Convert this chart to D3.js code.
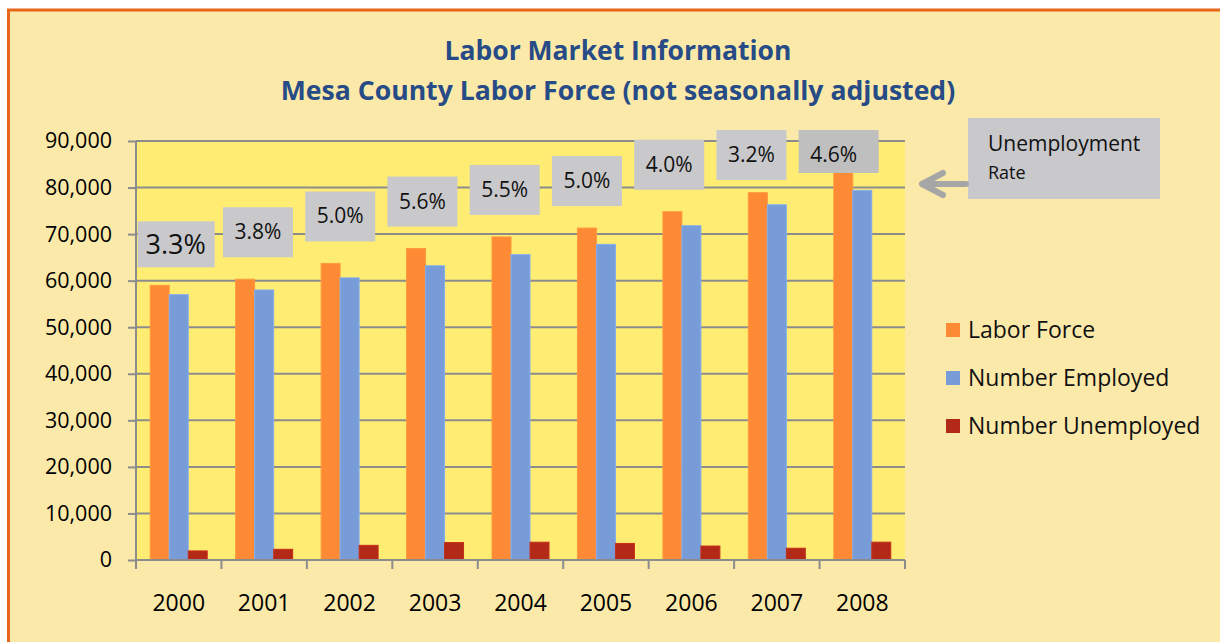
<!DOCTYPE html>
<html>
<head>
<meta charset="utf-8">
<script src="https://cdn.jsdelivr.net/npm/d3@7"></script>
<style>
  body { margin: 0; background: #fff; }
  svg { display: block; font-family: "Open Sans", Lato, sans-serif; }
</style>
</head>
<body>
<div id="canvas"></div>
<script>
// Chart data
const years = ["2000", "2001", "2002", "2003", "2004", "2005", "2006", "2007", "2008"];
const laborForce = [59000, 60300, 63700, 66900, 69400, 71300, 74800, 78900, 83200];
const employed = [57000, 58000, 60600, 63200, 65600, 67800, 71800, 76300, 79400];
const unemployed = [1950, 2300, 3150, 3750, 3820, 3560, 3000, 2530, 3830];
const rateLabels = ["3.3%", "3.8%", "5.0%", "5.6%", "5.5%", "5.0%", "4.0%", "3.2%", "4.6%"];
const seriesNames = ["Labor Force", "Number Employed", "Number Unemployed"];
const yTicks = [0, 10000, 20000, 30000, 40000, 50000, 60000, 70000, 80000, 90000];

const colors = ["#ff8a35", "#779cd8", "#b22a17"];

function createGraph() {
    const W = 1220, H = 642;
    const margin = { top: 141, right: 315, bottom: 82, left: 136 },
        width = W - margin.left - margin.right,
        height = H - margin.top - margin.bottom;

    const root = d3.select("#canvas")
        .append("svg")
        .attr("width", W)
        .attr("height", H);

    // background frame
    root.append("rect")
        .attr("x", 8.5).attr("y", 10)
        .attr("width", W + 20).attr("height", H + 20)
        .attr("fill", "#fbe9a9")
        .attr("stroke", "#e8661a")
        .attr("stroke-width", 3);

    // titles
    root.append("text")
        .attr("x", 618).attr("y", 60)
        .attr("text-anchor", "middle")
        .style("font-size", "26.5px").style("font-weight", "bold")
        .attr("fill", "#264b86")
        .text("Labor Market Information");
    root.append("text")
        .attr("x", 618).attr("y", 100)
        .attr("text-anchor", "middle")
        .style("font-size", "26.6px").style("font-weight", "bold")
        .attr("fill", "#264b86")
        .text("Mesa County Labor Force (not seasonally adjusted)");

    const svg = root.append("g")
        .attr("transform", `translate(${margin.left},${margin.top})`);

    svg.append("rect")
        .attr("width", width).attr("height", height)
        .attr("fill", "#ffec73");

    const y = d3.scaleLinear().domain([0, 90000]).range([height, 0]);

    const x0 = d3.scaleBand()
        .domain(years)
        .range([0, width])
        .paddingInner(0.333)
        .paddingOuter(0.1665);

    const x1 = d3.scaleBand()
        .domain(seriesNames)
        .range([0, x0.bandwidth()]);

    // gridlines
    svg.append("g")
        .selectAll("line")
        .data(yTicks.filter(d => d > 0))
        .join("line")
        .attr("x1", 0).attr("x2", width)
        .attr("y1", d => y(d)).attr("y2", d => y(d))
        .attr("stroke", "#8c8c8c")
        .attr("stroke-width", 2);

    // bars
    const rows = years.map((yr, i) => ({
        year: yr,
        values: [laborForce[i], employed[i], unemployed[i]]
    }));

    svg.append("g")
        .selectAll("g")
        .data(rows)
        .join("g")
        .attr("transform", d => `translate(${x0(d.year)},0)`)
        .selectAll("rect")
        .data(d => d.values.map((v, j) => ({ key: seriesNames[j], value: v, j })))
        .join("rect")
        .attr("x", d => x1(d.key))
        .attr("y", d => y(d.value))
        .attr("width", x1.bandwidth())
        .attr("height", d => height - y(d.value))
        .attr("fill", d => colors[d.j])
        .attr("stroke", d => d3.color(colors[d.j]).brighter(0.3))
        .attr("stroke-width", 1);

    // y axis
    const yAxis = svg.append("g")
        .call(d3.axisLeft(y).tickValues(yTicks).tickSize(8).tickPadding(16)
            .tickFormat(d3.format(",")));
    yAxis.select(".domain").attr("stroke", "#8c8c8c").attr("stroke-width", 2)
        .attr("d", `M0,0V${height}`);
    yAxis.selectAll(".tick line").attr("stroke", "#8c8c8c").attr("stroke-width", 2);
    yAxis.selectAll("text")
        .style("font-size", "21.5px").style("font-family", "'Open Sans', sans-serif")
        .attr("fill", "#000");

    // x axis
    const xAxis = svg.append("g")
        .attr("transform", `translate(0,${height})`)
        .call(d3.axisBottom(x0).tickSize(0).tickPadding(35));
    xAxis.select(".domain").attr("stroke", "#8c8c8c").attr("stroke-width", 2)
        .attr("d", `M0,0H${width}`);
    xAxis.selectAll("text")
        .style("font-size", "23px").style("font-family", "'Open Sans', sans-serif")
        .attr("fill", "#000");
    // tick marks on category boundaries
    const step = x0.step();
    svg.append("g")
        .selectAll("line")
        .data(d3.range(years.length + 1))
        .join("line")
        .attr("x1", d => d * step).attr("x2", d => d * step)
        .attr("y1", height).attr("y2", height + 9)
        .attr("stroke", "#8c8c8c")
        .attr("stroke-width", 2);

    // rate label boxes
    const labels = svg.append("g")
        .selectAll("g")
        .data(rows)
        .join("g")
        .attr("transform", (d, i) => {
            const cx = x0(d.year) + x0.bandwidth() / 2 - 3 - i * 3.2;
            const top = Math.max(-11, y(d.values[0]) - 22 - 50);
            return `translate(${cx},${top})`;
        });

    labels.append("rect")
        .attr("x", (d, i) => i === 0 ? -38 : -35)
        .attr("y", (d, i) => i === 0 ? 8 : 0)
        .attr("width", (d, i) => i === 0 ? 77 : (i === 8 ? 80 : 70))
        .attr("height", (d, i) => i === 0 ? 46 : (i === 8 ? 43 : 50))
        .attr("fill", (d, i) => i === 8 ? "#bfbfbf" : "#c9c9cc");

    labels.append("text")
        .attr("text-anchor", "middle")
        .attr("y", (d, i) => i === 0 ? 41 : 32)
        .style("font-size", (d, i) => i === 0 ? "27px" : "21px")
        .attr("fill", "#111")
        .text((d, i) => rateLabels[i]);

    // callout
    root.append("rect")
        .attr("x", 968).attr("y", 118)
        .attr("width", 192).attr("height", 81)
        .attr("fill", "#c9c9cc");
    root.append("text")
        .attr("x", 988).attr("y", 151)
        .style("font-size", "21px").attr("fill", "#111")
        .text("Unemployment");
    root.append("text")
        .attr("x", 988).attr("y", 179)
        .style("font-size", "18px").attr("fill", "#111")
        .text("Rate");
    root.append("path")
        .attr("d", "M966,184H922M943,173L922,184L943,195")
        .attr("fill", "none")
        .attr("stroke", "#a6a6a6")
        .attr("stroke-width", 6)
        .attr("stroke-linecap", "round")
        .attr("stroke-linejoin", "round");

    // legend
    const legend = root.append("g")
        .attr("transform", "translate(946,330)")
        .selectAll("g")
        .data(seriesNames)
        .join("g")
        .attr("transform", (d, i) => `translate(0,${i * 48})`);
    legend.append("rect")
        .attr("x", 0).attr("y", -7)
        .attr("width", 14).attr("height", 14)
        .attr("fill", (d, i) => colors[i]);
    legend.append("text")
        .attr("x", 22).attr("y", 8)
        .style("font-size", "23px").attr("fill", "#111")
        .text(d => d);
}

createGraph();
</script>
</body>
</html>
